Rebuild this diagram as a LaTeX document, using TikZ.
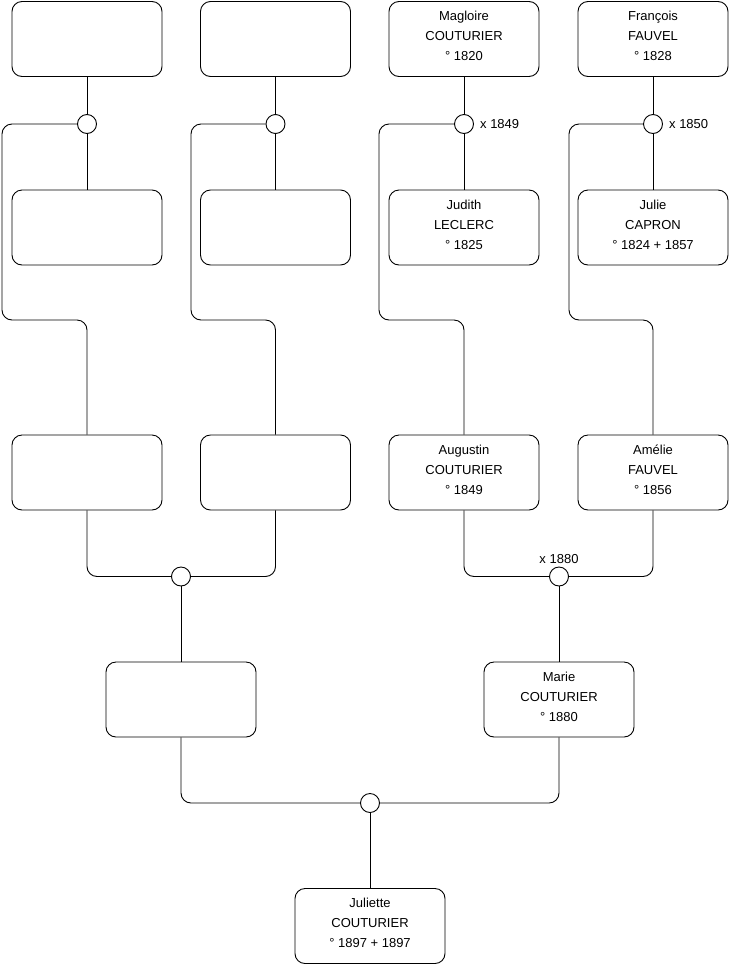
\documentclass[tikz,border=0pt]{standalone}
\usepackage{fontspec}
\setmainfont{Liberation Sans}
\usetikzlibrary{positioning, calc}

\begin{document}
\begin{tikzpicture}[
    x=1pt, y=-1pt,
    person/.style={rectangle, draw, rounded corners=10pt, minimum width=150pt, minimum height=75pt, align=center, text depth=6pt, font=\fontsize{13}{20}\selectfont, line width=0.9pt},
    wed/.style={circle, draw, fill=white, minimum size=19pt, inner sep=0pt, line width=0.9pt},
    link/.style={line width=0.9pt, rounded corners=10pt},
    year/.style={font=\fontsize{13}{15}\selectfont, inner sep=1pt}
]
\useasboundingbox (0,0) rectangle (740,975);

% Nodes
\node (ggfA) [person] at (87,39) {};
\node (ggfB) [person] at (275.5,39) {};
\node (magloire) [person] at (464,39) {Magloire\\COUTURIER\\° 1820};
\node (francois) [person] at (653,39) {François\\FAUVEL\\° 1828};

\node (ggmA) [person] at (87,227.5) {};
\node (ggmB) [person] at (275.5,227.5) {};
\node (judith) [person] at (464,227.5) {Judith\\LECLERC\\° 1825};
\node (julie) [person] at (653,227.5) {Julie\\CAPRON\\° 1824 + 1857};

\node (gpA) [person] at (87,472.5) {};
\node (gpB) [person] at (275.5,472.5) {};
\node (augustin) [person] at (464,472.5) {Augustin\\COUTURIER\\° 1849};
\node (amelie) [person] at (653,472.5) {Amélie\\FAUVEL\\° 1856};

\node (father) [person] at (181,699.5) {};
\node (marie) [person] at (559,699.5) {Marie\\COUTURIER\\° 1880};

\node (juliette) [person] at (370,926) {Juliette\\COUTURIER\\° 1897 + 1897};

% Marriages
\node (wedA) [wed] at (87,124) {};
\node (wedB) [wed] at (275.5,124) {};
\node (wedC) [wed] at (464,124) {};
\node (wedD) [wed] at (653,124) {};
\node (wedE) [wed] at (181,576.5) {};
\node (wedF) [wed] at (559,576.5) {};
\node (wedG) [wed] at (370,803) {};

\node (yearC) [year, right=5pt of wedC] {x 1849};
\node (yearD) [year, right=5pt of wedD] {x 1850};
\node (yearF) [year, above=2pt of wedF] {x 1880};

\coordinate (bendA) at (2,320);
\coordinate (bendB) at (191,320);
\coordinate (bendC) at (379,320);
\coordinate (bendD) at (569,320);

% Links
\draw [link] (ggfA) -- (wedA);
\draw [link] (wedA) -- (ggmA);
\draw [link] (wedA.west) -| (bendA) -| (gpA.north);
\draw [link] (ggfB) -- (wedB);
\draw [link] (wedB) -- (ggmB);
\draw [link] (wedB.west) -| (bendB) -| (gpB.north);
\draw [link] (magloire) -- (wedC);
\draw [link] (wedC) -- (judith);
\draw [link] (wedC.west) -| (bendC) -| (augustin.north);
\draw [link] (francois) -- (wedD);
\draw [link] (wedD) -- (julie);
\draw [link] (wedD.west) -| (bendD) -| (amelie.north);

\draw [link] (gpA.south) |- (wedE.west);
\draw [link] (gpB.south) |- (wedE.east);
\draw [link] (wedE) -- (father);
\draw [link] (augustin.south) |- (wedF.west);
\draw [link] (amelie.south) |- (wedF.east);
\draw [link] (wedF) -- (marie);

\draw [link] (father.south) |- (wedG.west);
\draw [link] (marie.south) |- (wedG.east);
\draw [link] (wedG) -- (juliette);

\end{tikzpicture}
\end{document}
